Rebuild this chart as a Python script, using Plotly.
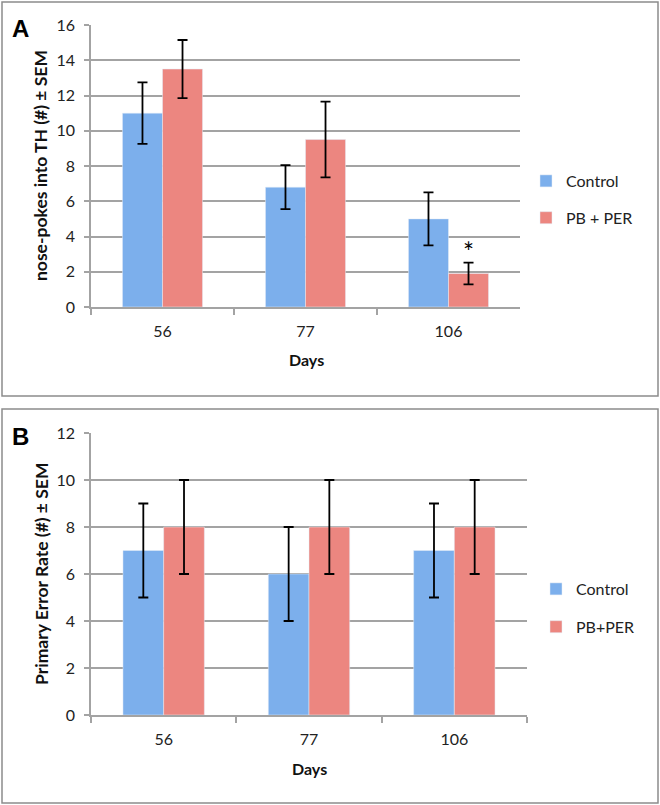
import plotly.graph_objects as go

days = ["56", "77", "106"]

# Panel A: nose-pokes into TH
a_control = [11.0, 6.8, 5.0]
a_control_sem = [1.75, 1.25, 1.5]
a_pbper = [13.5, 9.5, 1.9]
a_pbper_sem = [1.65, 2.15, 0.62]

# Panel B: primary error rate
b_control = [7, 6, 7]
b_control_sem = [2, 2, 2]
b_pbper = [8, 8, 8]
b_pbper_sem = [2, 2, 2]

a_yticks = [0, 2, 4, 6, 8, 10, 12, 14, 16]
b_yticks = [0, 2, 4, 6, 8, 10, 12]

BLUE = "#7cafec"
RED = "#ec8680"
GRID = "#a3a3a3"
FONT = "Lato"
W, H = 660, 805

fig = go.Figure()

def err(vals):
    return dict(type="data", array=vals, visible=True, color="black", thickness=1.8, width=5)

fig.add_trace(go.Bar(x=days, y=a_control, name="Control", marker_color=BLUE,
                     error_y=err(a_control_sem), xaxis="x", yaxis="y",
                     legend="legend", legendgroup="ac"))
fig.add_trace(go.Bar(x=days, y=a_pbper, name="PB + PER", marker_color=RED,
                     error_y=err(a_pbper_sem), xaxis="x", yaxis="y",
                     legend="legend", legendgroup="ap"))
fig.add_trace(go.Bar(x=days, y=b_control, name="Control", marker_color=BLUE,
                     error_y=err(b_control_sem), xaxis="x2", yaxis="y2",
                     legend="legend2", legendgroup="bc"))
fig.add_trace(go.Bar(x=days, y=b_pbper, name="PB+PER", marker_color=RED,
                     error_y=err(b_pbper_sem), xaxis="x2", yaxis="y2",
                     legend="legend2", legendgroup="bp"))

def px_x(p):
    return p / W

def px_y(p):
    return 1 - p / H

xcommon = dict(type="category", range=[-0.5, len(days) - 0.5], automargin=False,
               showline=True, linecolor=GRID, linewidth=1.5,
               ticks="outside", tickson="boundaries", ticklen=6, tickcolor=GRID,
               tickwidth=1.5, showgrid=False, tickfont=dict(family=FONT, size=16, color="#222"),
               ticklabelstandoff=9, fixedrange=True)
ycommon = dict(automargin=False, showline=True, linecolor=GRID, linewidth=1.5, ticks="outside",
               ticklen=5, tickcolor=GRID, tickwidth=1.5, showgrid=True, gridcolor=GRID,
               gridwidth=1.5, zeroline=False, tickfont=dict(family=FONT, size=16, color="#222"),
               ticklabelstandoff=6, fixedrange=True)

fig.update_layout(
    width=W, height=H,
    margin=dict(l=0, r=0, t=0, b=0, autoexpand=False),
    paper_bgcolor="white", plot_bgcolor="white",
    barmode="group", bargap=0.44, bargroupgap=0,
    font=dict(family=FONT, color="#222"),
    xaxis=dict(domain=[px_x(91), px_x(520)], anchor="y", **xcommon),
    yaxis=dict(domain=[px_y(307), px_y(25)], anchor="x", range=[0, 16],
               tickvals=a_yticks, **ycommon),
    xaxis2=dict(domain=[px_x(91), px_x(527)], anchor="y2", **xcommon),
    yaxis2=dict(domain=[px_y(715), px_y(433)], anchor="x2", range=[0, 12],
                tickvals=b_yticks, **ycommon),
    legend=dict(x=px_x(526), y=px_y(164), xanchor="left", yanchor="top",
                font=dict(family=FONT, size=16, color="#222"), tracegroupgap=13,
                traceorder="grouped", bgcolor="rgba(0,0,0,0)", itemclick=False),
    legend2=dict(x=px_x(536), y=px_y(572), xanchor="left", yanchor="top",
                 font=dict(family=FONT, size=16, color="#222"), tracegroupgap=14,
                 traceorder="grouped", bgcolor="rgba(0,0,0,0)", itemclick=False),
    showlegend=True,
)

# panel borders
BORDER = "#8c8c8c"
fig.add_shape(type="rect", xref="paper", yref="paper", x0=px_x(2), x1=px_x(658),
              y0=px_y(396), y1=px_y(2), line=dict(color=BORDER, width=1.5), layer="below")
fig.add_shape(type="rect", xref="paper", yref="paper", x0=px_x(2), x1=px_x(658),
              y0=px_y(803), y1=px_y(409), line=dict(color=BORDER, width=1.5), layer="below")

def label(text, x, y, size, angle=0, family=FONT, color="#111"):
    fig.add_annotation(text=text, xref="paper", yref="paper", x=px_x(x), y=px_y(y),
                       xanchor="center", yanchor="middle", textangle=angle,
                       showarrow=False, font=dict(family=family, size=size, color=color))

# panel letters
label("<b>A</b>", 21, 28, 24, family="Liberation Sans", color="black")
label("<b>B</b>", 21, 436, 24, family="Liberation Sans", color="black")

# axis titles
label("<b>nose-pokes into TH (#) ± SEM</b>", 41, 166, 17.5, angle=-90)
label("<b>Primary Error Rate (#) ± SEM</b>", 41, 574, 17.5, angle=-90)
label("<b>Days</b>", 306, 360, 16)
label("<b>Days</b>", 309, 768, 16)

# significance asterisk above PB + PER at day 106 (category index of "106")
sig_idx = days.index("106")
fig.add_annotation(text="*", xref="x", yref="y", x=sig_idx,
                   y=a_pbper[sig_idx] + a_pbper_sem[sig_idx], xshift=20, yshift=11,
                   showarrow=False, font=dict(family=FONT, size=26, color="black"))

fig.write_html("out.html", config={"displayModeBar": False},
               post_script="document.body.style.margin='0';")
